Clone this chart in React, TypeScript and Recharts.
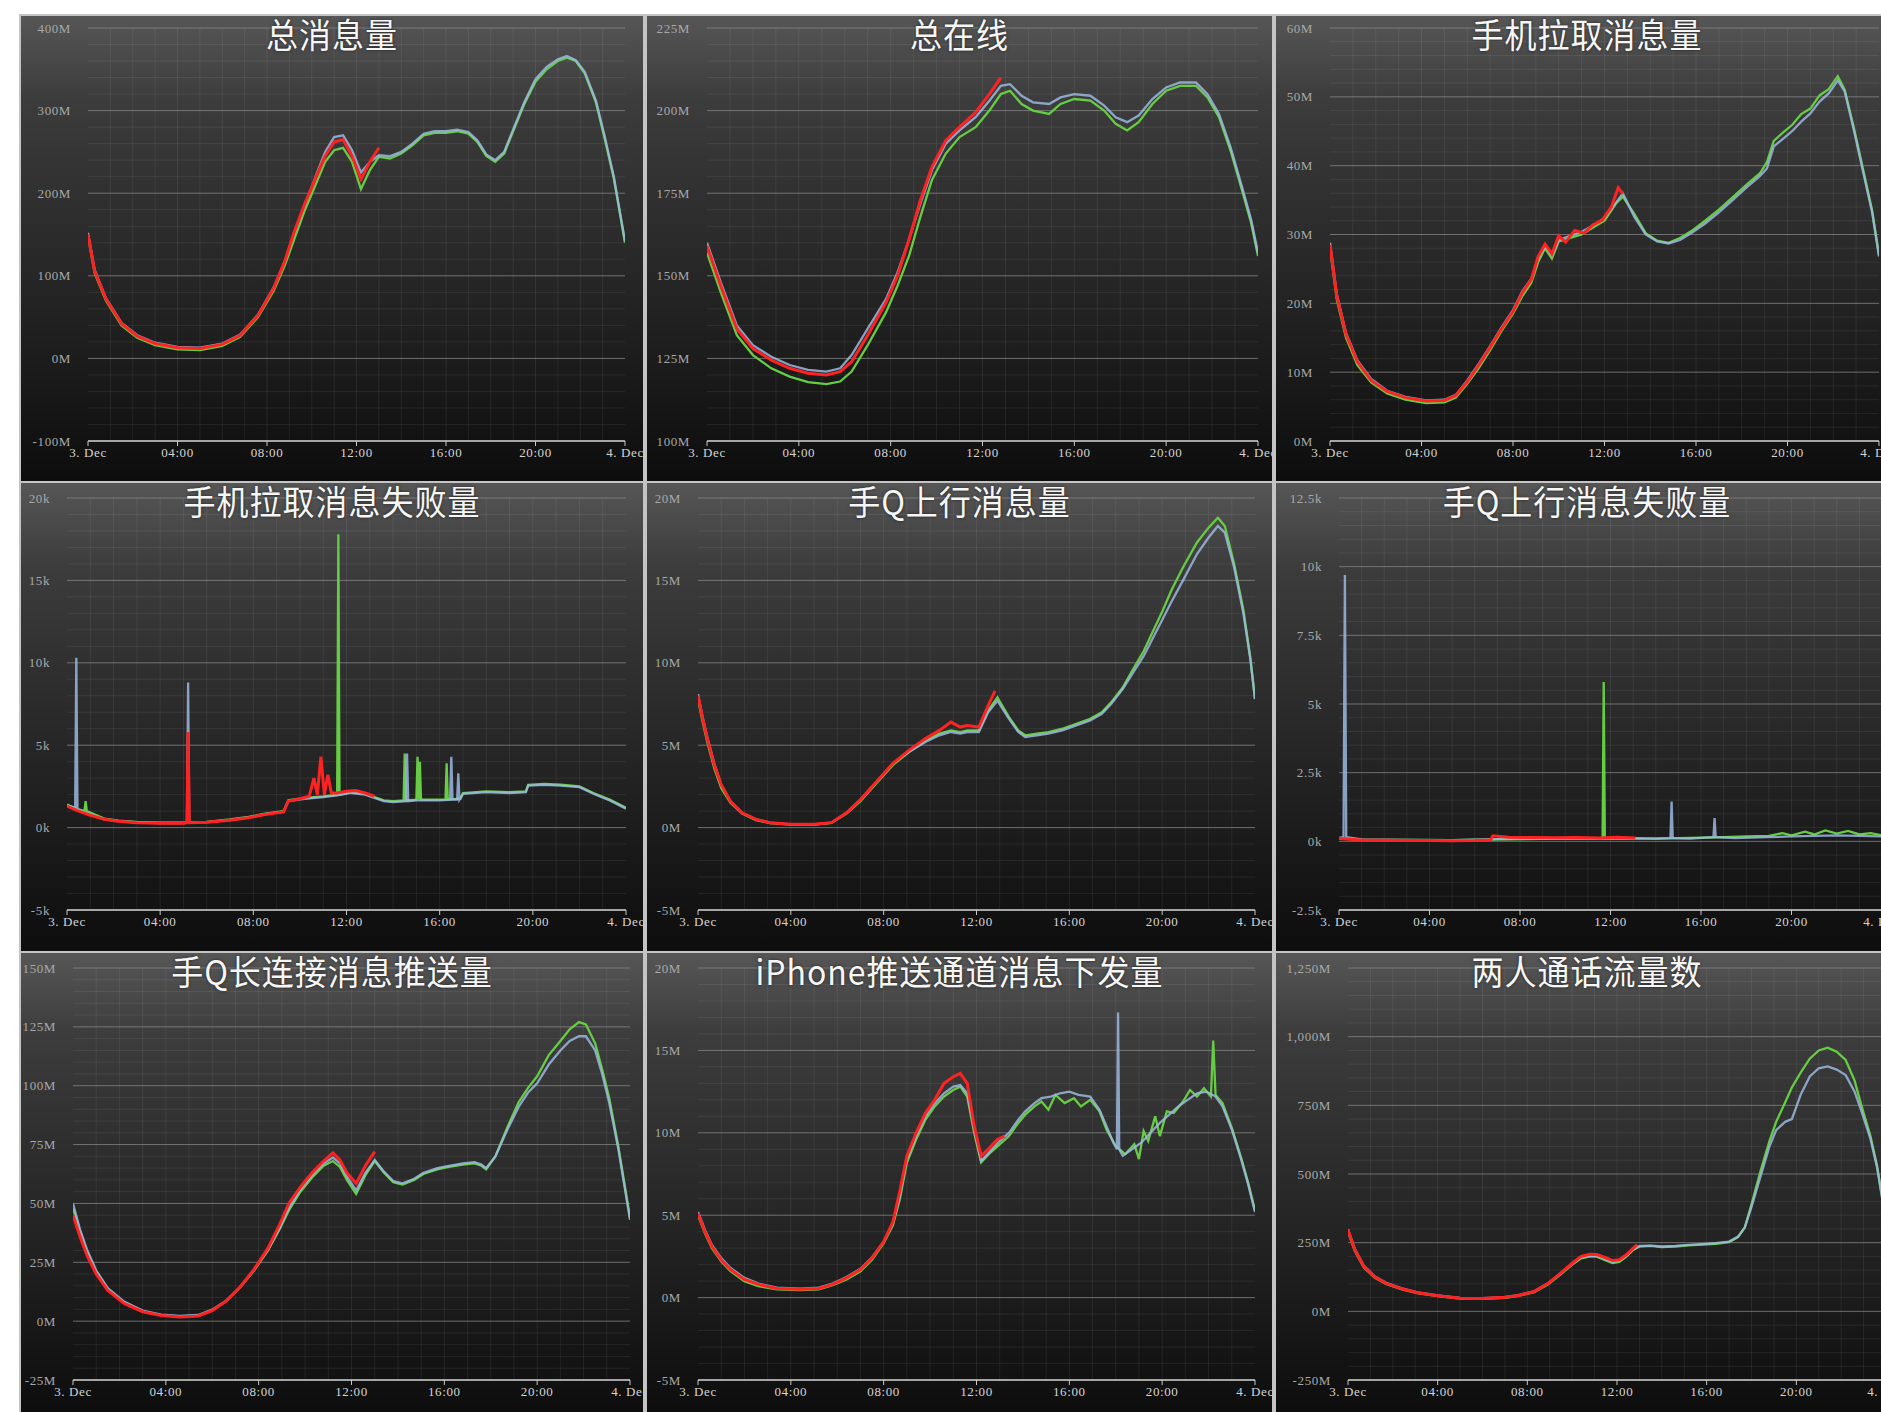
import React from "react";
import { LineChart, Line, XAxis, YAxis, CartesianGrid } from "recharts";

type Pt = [number, number];

// x axis: hours from 3 Dec 00:00 to 4 Dec 00:00
const hourTicks = [0, 4, 8, 12, 16, 20, 24];

// ---- 总消息量 (M) ----
const totalMsgTicks = [-100, 0, 100, 200, 300, 400];
const totalMsgRed: Pt[] = [[0, 150], [0.3, 105], [0.8, 72], [1.5, 42], [2.2, 27], [3, 18], [4, 13], [5, 12], [6, 17], [6.8, 28], [7.6, 52], [8.3, 85], [8.8, 118], [9.2, 152], [9.7, 188], [10.2, 220], [10.6, 245], [11, 262], [11.4, 265], [11.8, 245], [12.2, 217], [12.6, 238], [13, 255]];
const totalMsgGreen: Pt[] = [[0, 148], [0.3, 103], [0.8, 70], [1.5, 40], [2.2, 25], [3, 16], [4, 11], [5, 10], [6, 15], [6.8, 26], [7.6, 50], [8.3, 82], [8.8, 113], [9.2, 143], [9.7, 180], [10.2, 212], [10.6, 238], [11, 252], [11.4, 255], [11.8, 238], [12.2, 205], [12.6, 228], [13, 244], [13.5, 242], [14, 248], [14.5, 258], [15, 270], [15.5, 273], [16, 273], [16.5, 275], [17, 272], [17.4, 262], [17.8, 245], [18.2, 238], [18.6, 248], [19, 275], [19.5, 308], [20, 335], [20.5, 350], [21, 360], [21.4, 364], [21.8, 360], [22.2, 345], [22.7, 310], [23.1, 265], [23.5, 218], [24, 140]];
const totalMsgBlue: Pt[] = [[0, 152], [0.3, 107], [0.8, 73], [1.5, 43], [2.2, 28], [3, 19], [4, 14], [5, 13], [6, 18], [6.8, 29], [7.6, 53], [8.3, 86], [8.8, 118], [9.2, 150], [9.7, 186], [10.2, 222], [10.6, 250], [11, 268], [11.4, 270], [11.8, 252], [12.2, 225], [12.6, 238], [13, 246], [13.5, 245], [14, 250], [14.5, 260], [15, 272], [15.5, 275], [16, 275], [16.5, 277], [17, 274], [17.4, 264], [17.8, 247], [18.2, 240], [18.6, 250], [19, 277], [19.5, 310], [20, 338], [20.5, 353], [21, 362], [21.4, 366], [21.8, 361], [22.2, 347], [22.7, 312], [23.1, 268], [23.5, 220], [24, 142]];

// ---- 总在线 (M) ----
const onlineTicks = [100, 125, 150, 175, 200, 225];
const onlineRed: Pt[] = [[0, 159], [0.6, 147], [1.3, 134], [2, 128], [2.8, 124.5], [3.6, 122], [4.4, 120.5], [5.2, 120], [5.8, 121], [6.3, 124], [7, 132], [7.8, 142], [8.3, 150], [8.8, 161], [9.3, 173], [9.8, 183], [10.4, 191], [11, 195], [11.7, 199.5], [12.3, 205], [12.8, 210]];
const onlineGreen: Pt[] = [[0, 157], [0.6, 145], [1.3, 132], [2, 126], [2.8, 122], [3.6, 119.5], [4.4, 117.8], [5.2, 117.2], [5.8, 118], [6.3, 121], [7, 129], [7.8, 139], [8.3, 147], [8.8, 156], [9.3, 168], [9.8, 179], [10.4, 187], [11, 192], [11.7, 195], [12.3, 200], [12.8, 205], [13.2, 206], [13.7, 202], [14.2, 200], [14.9, 199], [15.4, 202], [16, 203.5], [16.7, 203], [17.3, 200], [17.8, 196], [18.3, 194], [18.8, 196.5], [19.4, 202], [20, 206], [20.6, 207.5], [21.3, 207.5], [21.8, 204], [22.3, 198], [22.8, 188], [23.3, 176], [23.7, 166], [24, 156]];
const onlineBlue: Pt[] = [[0, 160], [0.6, 148], [1.3, 135], [2, 129], [2.8, 125.5], [3.6, 123], [4.4, 121.5], [5.2, 121], [5.8, 122], [6.3, 126], [7, 134], [7.8, 143], [8.3, 151], [8.8, 161], [9.3, 172], [9.8, 182], [10.4, 190], [11, 194], [11.7, 198], [12.3, 203], [12.8, 207.5], [13.2, 208], [13.7, 204.5], [14.2, 202.5], [14.9, 202], [15.4, 204], [16, 205], [16.7, 204.5], [17.3, 201.5], [17.8, 198], [18.3, 196.5], [18.8, 198.5], [19.4, 203.5], [20, 207], [20.6, 208.5], [21.3, 208.5], [21.8, 205], [22.3, 199], [22.8, 189], [23.3, 177], [23.7, 167], [24, 157]];

// ---- 手机拉取消息量 (M) ----
const pullTicks = [0, 10, 20, 30, 40, 50, 60];
const pullRed: Pt[] = [[0, 28.5], [0.3, 21], [0.7, 15.5], [1.2, 11.5], [1.8, 8.8], [2.5, 7.2], [3.3, 6.3], [4.2, 5.8], [5, 5.9], [5.5, 6.6], [6, 8.6], [6.5, 11], [7, 13.6], [7.5, 16.3], [8, 18.8], [8.4, 21.5], [8.8, 23.5], [9.1, 26.8], [9.4, 28.6], [9.7, 27.2], [10, 29.8], [10.3, 28.9], [10.7, 30.6], [11.1, 30.2], [11.5, 31.4], [11.9, 32.1], [12.3, 34], [12.6, 36.8], [12.8, 35.9]];
const pullGreen: Pt[] = [[0, 28], [0.3, 20.5], [0.7, 15], [1.2, 11], [1.8, 8.5], [2.5, 6.9], [3.3, 6], [4.2, 5.5], [5, 5.6], [5.5, 6.3], [6, 8.3], [6.5, 10.6], [7, 13.2], [7.5, 16], [8, 18.5], [8.4, 21], [8.8, 23], [9.1, 26], [9.4, 28], [9.7, 26.5], [10, 29], [10.5, 29.5], [11, 30], [11.5, 31], [12, 32], [12.5, 34.5], [12.8, 35.5], [13.3, 33], [13.8, 30.2], [14.3, 29.1], [14.8, 28.8], [15.3, 29.5], [15.8, 30.5], [16.4, 32], [17, 33.6], [17.6, 35.4], [18.2, 37.2], [18.8, 38.9], [19.1, 40.5], [19.4, 43.6], [19.8, 44.8], [20.2, 45.9], [20.6, 47.5], [21, 48.3], [21.4, 50.2], [21.8, 51.1], [22.2, 53], [22.5, 51], [22.9, 45.5], [23.3, 39.5], [23.7, 33.5], [24, 27]];
const pullBlue: Pt[] = [[0, 28.8], [0.3, 21.3], [0.7, 15.7], [1.2, 11.7], [1.8, 9], [2.5, 7.3], [3.3, 6.4], [4.2, 5.9], [5, 6], [5.5, 6.7], [6, 8.8], [6.5, 11.2], [7, 13.8], [7.5, 16.5], [8, 19], [8.4, 21.7], [8.8, 23.6], [9.1, 26.5], [9.4, 28.3], [9.7, 27], [10, 29.2], [10.5, 29.8], [11, 30.4], [11.5, 31.3], [12, 32.4], [12.5, 34.6], [12.8, 36], [13.3, 32.6], [13.8, 30], [14.3, 29], [14.8, 28.7], [15.3, 29.2], [15.8, 30.2], [16.4, 31.6], [17, 33.2], [17.6, 35], [18.2, 36.8], [18.8, 38.5], [19.1, 39.6], [19.4, 42.8], [19.8, 43.9], [20.2, 45], [20.6, 46.4], [21, 47.6], [21.4, 49.3], [21.8, 50.5], [22.2, 52.4], [22.5, 50.8], [22.9, 45.2], [23.3, 39.2], [23.7, 33.2], [24, 26.8]];

// ---- 手机拉取消息失败量 (k) ----
const pullFailTicks = [-5, 0, 5, 10, 15, 20];
const pullFailRed: Pt[] = [[0, 1.3], [0.5, 1.0], [1, 0.75], [1.6, 0.5], [2.2, 0.38], [3, 0.3], [4, 0.26], [5, 0.26], [5.15, 0.3], [5.2, 5.8], [5.25, 0.3], [6, 0.32], [7, 0.45], [7.8, 0.6], [8.5, 0.8], [9.3, 0.95], [9.5, 1.6], [10, 1.75], [10.4, 1.9], [10.6, 3.0], [10.75, 2.0], [10.9, 4.3], [11.05, 2.0], [11.2, 3.2], [11.35, 2.1], [11.6, 2.1], [12, 2.2], [12.4, 2.25], [12.8, 2.1], [13.2, 1.9]];
const pullFailGreen: Pt[] = [[0, 1.4], [0.5, 1.1], [0.75, 1.0], [0.8, 1.6], [0.85, 1.0], [1.6, 0.55], [2.2, 0.42], [3, 0.35], [4, 0.3], [5, 0.3], [6, 0.35], [7, 0.5], [7.8, 0.65], [8.5, 0.85], [9.3, 1.0], [9.5, 1.65], [10.2, 1.8], [11, 1.9], [11.6, 2.0], [11.65, 17.8], [11.7, 2.0], [12.2, 2.15], [12.8, 2.05], [13.2, 1.85], [13.6, 1.65], [14, 1.6], [14.45, 1.65], [14.5, 4.5], [14.55, 1.65], [15, 1.7], [15.05, 4.3], [15.1, 1.7], [15.15, 4.0], [15.2, 1.7], [16, 1.7], [16.25, 1.7], [16.3, 3.9], [16.35, 1.7], [16.9, 1.75], [17, 2.1], [18, 2.2], [19, 2.15], [19.7, 2.2], [19.8, 2.6], [20.5, 2.65], [21.2, 2.6], [22, 2.5], [22.6, 2.1], [23.3, 1.7], [24, 1.2]];
const pullFailBlue: Pt[] = [[0, 1.35], [0.35, 1.2], [0.4, 10.3], [0.45, 1.1], [1, 0.8], [1.6, 0.5], [2.2, 0.4], [3, 0.32], [4, 0.28], [5, 0.28], [5.15, 0.3], [5.2, 8.8], [5.25, 0.3], [6, 0.33], [7, 0.47], [7.8, 0.62], [8.5, 0.82], [9.3, 0.97], [9.5, 1.6], [10.2, 1.75], [11, 1.85], [11.6, 1.95], [12.2, 2.1], [12.8, 2.0], [13.2, 1.8], [13.6, 1.6], [14, 1.55], [14.55, 1.6], [14.6, 4.5], [14.65, 1.6], [15, 1.65], [16, 1.65], [16.45, 1.7], [16.5, 4.3], [16.55, 1.7], [16.75, 1.7], [16.8, 3.3], [16.85, 1.7], [17, 2.05], [18, 2.15], [19, 2.1], [19.7, 2.15], [19.8, 2.55], [20.5, 2.6], [21.2, 2.55], [22, 2.45], [22.6, 2.05], [23.3, 1.65], [24, 1.15]];

// ---- 手Q上行消息量 (M) ----
const upTicks = [-5, 0, 5, 10, 15, 20];
const upRed: Pt[] = [[0, 8], [0.2, 6.6], [0.4, 5.4], [0.7, 3.8], [1, 2.6], [1.4, 1.6], [1.9, 0.9], [2.5, 0.5], [3.1, 0.3], [4, 0.2], [5, 0.2], [5.75, 0.3], [6.4, 0.9], [7, 1.7], [7.7, 2.8], [8.4, 3.9], [9.1, 4.7], [9.8, 5.4], [10.4, 5.9], [10.9, 6.4], [11.3, 6.1], [11.6, 6.2], [12.1, 6.1], [12.5, 7.4], [12.8, 8.3]];
const upGreen: Pt[] = [[0, 7.8], [0.2, 6.4], [0.4, 5.2], [0.7, 3.6], [1, 2.4], [1.4, 1.5], [1.9, 0.85], [2.5, 0.45], [3.1, 0.28], [4, 0.18], [5, 0.18], [5.75, 0.28], [6.4, 0.85], [7, 1.6], [7.7, 2.7], [8.4, 3.8], [9.1, 4.6], [9.8, 5.3], [10.4, 5.7], [10.9, 5.9], [11.3, 5.8], [11.6, 5.9], [12.1, 5.9], [12.5, 7.1], [12.9, 7.9], [13.4, 6.7], [13.8, 5.9], [14.1, 5.6], [14.6, 5.7], [15.1, 5.8], [15.7, 6], [16.3, 6.3], [16.9, 6.6], [17.4, 7], [17.8, 7.6], [18.3, 8.5], [18.7, 9.5], [19.2, 10.7], [19.6, 11.9], [20, 13.1], [20.4, 14.4], [20.9, 15.8], [21.5, 17.3], [22, 18.2], [22.4, 18.8], [22.7, 18.3], [23.1, 16], [23.5, 13.2], [23.8, 10.3], [24, 7.8]];
const upBlue: Pt[] = [[0, 8.1], [0.2, 6.7], [0.4, 5.5], [0.7, 3.9], [1, 2.6], [1.4, 1.6], [1.9, 0.9], [2.5, 0.5], [3.1, 0.3], [4, 0.2], [5, 0.2], [5.75, 0.3], [6.4, 0.9], [7, 1.7], [7.7, 2.8], [8.4, 3.9], [9.1, 4.6], [9.8, 5.2], [10.4, 5.6], [10.9, 5.8], [11.3, 5.7], [11.6, 5.8], [12.1, 5.8], [12.5, 7], [12.9, 7.7], [13.4, 6.6], [13.8, 5.8], [14.1, 5.5], [14.6, 5.6], [15.1, 5.7], [15.7, 5.9], [16.3, 6.2], [16.9, 6.5], [17.4, 6.9], [17.8, 7.5], [18.3, 8.4], [18.7, 9.3], [19.2, 10.4], [19.6, 11.5], [20, 12.6], [20.4, 13.7], [20.9, 15], [21.5, 16.6], [22, 17.6], [22.4, 18.3], [22.7, 17.9], [23.1, 15.8], [23.5, 13], [23.8, 10.2], [24, 7.8]];

// ---- 手Q上行消息失败量 (k) ----
const upFailTicks = [-2.5, 0, 2.5, 5, 7.5, 10, 12.5];
const upFailRed: Pt[] = [[0, 0.1], [1, 0.05], [2, 0.04], [3, 0.03], [4, 0.03], [5, 0.02], [6, 0.03], [6.7, 0.05], [6.8, 0.2], [7.5, 0.15], [8.5, 0.14], [9.5, 0.13], [10.5, 0.14], [11.5, 0.12], [12.3, 0.15], [13.1, 0.12]];
const upFailGreen: Pt[] = [[0, 0.1], [1, 0.06], [3, 0.05], [5, 0.04], [7, 0.07], [9, 0.09], [11, 0.1], [11.65, 0.1], [11.7, 5.8], [11.75, 0.1], [13, 0.1], [14, 0.1], [15, 0.12], [16, 0.13], [17, 0.15], [18, 0.18], [19, 0.2], [19.6, 0.3], [20, 0.22], [20.6, 0.35], [21, 0.25], [21.5, 0.4], [22, 0.28], [22.5, 0.38], [23, 0.25], [23.5, 0.3], [24, 0.22]];
const upFailBlue: Pt[] = [[0, 0.12], [0.2, 0.15], [0.26, 9.7], [0.32, 0.15], [1, 0.07], [3, 0.05], [5, 0.04], [7, 0.08], [9, 0.1], [11, 0.1], [13, 0.12], [14, 0.1], [14.65, 0.12], [14.7, 1.45], [14.75, 0.12], [15.5, 0.1], [16.55, 0.15], [16.6, 0.85], [16.65, 0.15], [17.5, 0.12], [19, 0.15], [20, 0.18], [21, 0.2], [22, 0.22], [23, 0.2], [24, 0.18]];

// ---- 手Q长连接消息推送量 (M) ----
const pushTicks = [-25, 0, 25, 50, 75, 100, 125, 150];
const pushRed: Pt[] = [[0, 45], [0.3, 36], [0.6, 28], [1, 20], [1.5, 13], [2.2, 7.5], [3, 4], [3.8, 2.4], [4.6, 1.8], [5.4, 2.2], [6, 4.5], [6.6, 8.5], [7.2, 14.5], [7.8, 22], [8.4, 31], [8.9, 41], [9.3, 50], [9.8, 57], [10.3, 63], [10.8, 68], [11.2, 71.5], [11.5, 68.5], [11.8, 63], [12.2, 58.5], [12.6, 66], [13, 72]];
const pushGreen: Pt[] = [[0, 48], [0.3, 38], [0.6, 29.5], [1, 21], [1.5, 13.5], [2.2, 8], [3, 4.2], [3.8, 2.6], [4.6, 2], [5.4, 2.4], [6, 4.7], [6.6, 8.5], [7.2, 14.3], [7.8, 21.5], [8.4, 30], [8.9, 39], [9.3, 47], [9.8, 55], [10.3, 61], [10.8, 66], [11.2, 68], [11.5, 65.5], [11.8, 60], [12.2, 54], [12.6, 62], [13, 68], [13.4, 63], [13.8, 59], [14.2, 58], [14.7, 60], [15.1, 62.5], [15.7, 64.5], [16.2, 65.5], [16.8, 66.5], [17.3, 67], [17.6, 66], [17.8, 64.5], [18.2, 70], [18.7, 82], [19.2, 93], [19.6, 99], [20, 104], [20.5, 113], [21, 119], [21.4, 124], [21.8, 127], [22.1, 126], [22.5, 118], [22.8, 107], [23.1, 95], [23.5, 74], [23.8, 56], [24, 44]];
const pushBlue: Pt[] = [[0, 50], [0.3, 39], [0.6, 30.5], [1, 21.5], [1.5, 14], [2.2, 8.3], [3, 4.5], [3.8, 2.8], [4.6, 2.2], [5.4, 2.6], [6, 4.9], [6.6, 8.7], [7.2, 14.5], [7.8, 21.7], [8.4, 30.3], [8.9, 39.5], [9.3, 48], [9.8, 56], [10.3, 62], [10.8, 67], [11.2, 69.5], [11.5, 67], [11.8, 61.5], [12.2, 55.5], [12.6, 63], [13, 68.5], [13.4, 63.5], [13.8, 59.5], [14.2, 58.5], [14.7, 60.5], [15.1, 63], [15.7, 65], [16.2, 66], [16.8, 67], [17.3, 67.5], [17.6, 66.5], [17.8, 65], [18.2, 70], [18.7, 81], [19.2, 91], [19.6, 97], [20, 101], [20.5, 109], [21, 115], [21.4, 119], [21.8, 121], [22.1, 121], [22.5, 115], [22.8, 105], [23.1, 93], [23.5, 73], [23.8, 55], [24, 43]];

// ---- iPhone推送通道消息下发量 (M) ----
const apnsTicks = [-5, 0, 5, 10, 15, 20];
const apnsRed: Pt[] = [[0, 5.1], [0.3, 4], [0.6, 3.1], [1, 2.3], [1.4, 1.7], [2, 1.1], [2.6, 0.8], [3.4, 0.55], [4.4, 0.5], [5.2, 0.55], [5.8, 0.8], [6.4, 1.2], [7, 1.7], [7.5, 2.4], [8, 3.4], [8.4, 4.6], [8.7, 6.5], [9, 8.6], [9.4, 10], [9.8, 11.2], [10.2, 12], [10.6, 13], [11, 13.4], [11.3, 13.6], [11.6, 13], [11.9, 10.4], [12.2, 8.6], [12.5, 9], [12.9, 9.6], [13.2, 9.8]];
const apnsGreen: Pt[] = [[0, 5], [0.3, 3.9], [0.6, 3], [1, 2.2], [1.4, 1.6], [2, 1], [2.6, 0.7], [3.4, 0.5], [4.4, 0.45], [5.2, 0.5], [5.8, 0.75], [6.4, 1.1], [7, 1.6], [7.5, 2.3], [8, 3.3], [8.4, 4.4], [8.7, 6], [9, 8.2], [9.4, 9.6], [9.8, 10.8], [10.2, 11.6], [10.6, 12.2], [11, 12.6], [11.3, 12.8], [11.6, 12.2], [11.9, 10], [12.2, 8.2], [12.6, 8.8], [13, 9.3], [13.4, 9.8], [13.8, 10.6], [14.1, 11.1], [14.5, 11.6], [14.8, 11.9], [15.1, 11.4], [15.4, 12.3], [15.8, 11.8], [16.2, 12.1], [16.5, 11.6], [16.9, 12], [17.3, 11.3], [17.6, 10.2], [18, 9.2], [18.4, 8.7], [18.8, 9.3], [19, 8.4], [19.2, 10.1], [19.4, 9.5], [19.7, 11], [19.9, 9.8], [20.2, 11.3], [20.5, 11.2], [20.9, 11.9], [21.2, 12.6], [21.5, 12.2], [21.8, 12.7], [22.1, 12.2], [22.2, 15.6], [22.3, 12.3], [22.6, 11.8], [23, 10.3], [23.4, 8.5], [23.7, 7], [24, 5.3]];
const apnsBlue: Pt[] = [[0, 5.2], [0.3, 4.1], [0.6, 3.2], [1, 2.4], [1.4, 1.8], [2, 1.2], [2.6, 0.85], [3.4, 0.6], [4.4, 0.55], [5.2, 0.6], [5.8, 0.85], [6.4, 1.25], [7, 1.75], [7.5, 2.45], [8, 3.4], [8.4, 4.5], [8.7, 6.2], [9, 8.4], [9.4, 9.8], [9.8, 11], [10.2, 11.8], [10.6, 12.4], [11, 12.8], [11.3, 12.9], [11.6, 12.4], [11.9, 10.2], [12.2, 8.3], [12.6, 8.9], [13, 9.5], [13.4, 10], [13.8, 10.8], [14.1, 11.3], [14.5, 11.8], [14.8, 12.1], [15.2, 12.2], [15.6, 12.4], [16, 12.5], [16.4, 12.3], [16.9, 12.2], [17.3, 11.4], [17.6, 10.4], [17.9, 9.4], [18.05, 9], [18.1, 17.3], [18.15, 9], [18.3, 8.6], [18.7, 9], [19.1, 9.4], [19.5, 10], [19.9, 10.6], [20.3, 11.1], [20.7, 11.6], [21.1, 12], [21.5, 12.4], [21.9, 12.5], [22.3, 12.2], [22.6, 11.6], [23, 10.2], [23.4, 8.4], [23.7, 6.9], [24, 5.2]];

// ---- 两人通话流量数 (M) ----
const callTicks = [-250, 0, 250, 500, 750, 1000, 1250];
const callRed: Pt[] = [[0, 296], [0.3, 225], [0.7, 165], [1.2, 125], [1.7, 102], [2.4, 82], [3.1, 68], [4, 57], [5, 48], [6, 47], [7, 51], [7.6, 58], [8.3, 72], [8.9, 100], [9.5, 140], [10, 175], [10.4, 200], [10.8, 208], [11.1, 207], [11.5, 195], [11.8, 185], [12.1, 188], [12.4, 205], [12.7, 228], [12.9, 243]];
const callGreen: Pt[] = [[0, 290], [0.3, 220], [0.7, 160], [1.2, 122], [1.7, 100], [2.4, 80], [3.1, 66], [4, 55], [5, 46], [6, 45], [7, 49], [7.6, 56], [8.3, 70], [8.9, 97], [9.5, 136], [10, 170], [10.4, 193], [10.8, 200], [11.1, 199], [11.5, 185], [11.8, 176], [12.1, 180], [12.4, 198], [12.7, 222], [13, 236], [13.5, 238], [14, 234], [14.6, 236], [15.2, 240], [15.8, 243], [16.4, 246], [17, 252], [17.4, 270], [17.7, 305], [18, 390], [18.4, 510], [18.8, 620], [19.1, 690], [19.5, 760], [19.8, 815], [20.2, 870], [20.6, 920], [21, 950], [21.4, 960], [21.8, 945], [22.2, 915], [22.6, 840], [22.9, 750], [23.3, 640], [23.6, 530], [24, 330]];
const callBlue: Pt[] = [[0, 298], [0.3, 228], [0.7, 167], [1.2, 127], [1.7, 104], [2.4, 84], [3.1, 69], [4, 58], [5, 49], [6, 48], [7, 52], [7.6, 59], [8.3, 73], [8.9, 101], [9.5, 140], [10, 173], [10.4, 196], [10.8, 203], [11.1, 202], [11.5, 190], [11.8, 180], [12.1, 184], [12.4, 201], [12.7, 224], [13, 238], [13.5, 239], [14, 236], [14.6, 238], [15.2, 242], [15.8, 245], [16.4, 248], [17, 254], [17.4, 272], [17.7, 305], [18, 380], [18.4, 490], [18.8, 600], [19.1, 660], [19.5, 690], [19.8, 700], [20.2, 790], [20.6, 855], [21, 885], [21.4, 892], [21.8, 880], [22.2, 860], [22.6, 800], [22.9, 730], [23.3, 630], [23.6, 525], [24, 325]];

const RED = "#ff2222";
const GREEN = "#66cc44";
const BLUE = "#9bb9e0";

const colLeft = [21, 647, 1276];
const colWidth = [622, 625, 622];
const rowTop = [16, 483, 953];
const rowHeight = [465, 468, 460];
const rowPlot = [
    { top: 12, bottom: 425 },
    { top: 15, bottom: 427 },
    { top: 15, bottom: 427 },
];

interface PanelCfg {
    title: string;
    unit: string;
    ticks: number[];
    red: Pt[];
    green: Pt[];
    blue: Pt[];
    row: number;
    col: number;
    plotLeft: number; // local x of 0h
    plotRight: number; // local x of 24h
}

const panels: PanelCfg[] = [
    { title: "总消息量", unit: "M", ticks: totalMsgTicks, red: totalMsgRed, green: totalMsgGreen, blue: totalMsgBlue, row: 0, col: 0, plotLeft: 67, plotRight: 604 },
    { title: "总在线", unit: "M", ticks: onlineTicks, red: onlineRed, green: onlineGreen, blue: onlineBlue, row: 0, col: 1, plotLeft: 60, plotRight: 611 },
    { title: "手机拉取消息量", unit: "M", ticks: pullTicks, red: pullRed, green: pullGreen, blue: pullBlue, row: 0, col: 2, plotLeft: 54, plotRight: 603 },
    { title: "手机拉取消息失败量", unit: "k", ticks: pullFailTicks, red: pullFailRed, green: pullFailGreen, blue: pullFailBlue, row: 1, col: 0, plotLeft: 46, plotRight: 605 },
    { title: "手Q上行消息量", unit: "M", ticks: upTicks, red: upRed, green: upGreen, blue: upBlue, row: 1, col: 1, plotLeft: 51, plotRight: 608 },
    { title: "手Q上行消息失败量", unit: "k", ticks: upFailTicks, red: upFailRed, green: upFailGreen, blue: upFailBlue, row: 1, col: 2, plotLeft: 63, plotRight: 606 },
    { title: "手Q长连接消息推送量", unit: "M", ticks: pushTicks, red: pushRed, green: pushGreen, blue: pushBlue, row: 2, col: 0, plotLeft: 52, plotRight: 609 },
    { title: "iPhone推送通道消息下发量", unit: "M", ticks: apnsTicks, red: apnsRed, green: apnsGreen, blue: apnsBlue, row: 2, col: 1, plotLeft: 51, plotRight: 608 },
    { title: "两人通话流量数", unit: "M", ticks: callTicks, red: callRed, green: callGreen, blue: callBlue, row: 2, col: 2, plotLeft: 72, plotRight: 610 },
];

const toRows = (pts: Pt[]) => pts.map(([t, v]) => ({ t, v }));

const fmtHour = (h: number) =>
    h === 0 ? "3. Dec" : h === 24 ? "4. Dec" : `${String(h).padStart(2, "0")}:00`;

const fmtValue = (unit: string) => (v: number) =>
    (Math.abs(v) >= 1000 ? v.toLocaleString("en-US") : String(v)) + unit;

const hours = Array.from({ length: 23 }, (_, i) => i + 1);

const Panel: React.FC<{ cfg: PanelCfg }> = ({ cfg }) => {
    const width = colWidth[cfg.col];
    const height = rowHeight[cfg.row];
    const plot = rowPlot[cfg.row];
    const xAxisHeight = 30;
    const yMin = cfg.ticks[0];
    const yMax = cfg.ticks[cfg.ticks.length - 1];
    const step = cfg.ticks[1] - cfg.ticks[0];

    // faint minor lines between the labelled ticks
    const minor: number[] = [];
    cfg.ticks.slice(0, -1).forEach((t) => {
        for (let k = 1; k < 5; k++) minor.push(t + (step * k) / 5);
    });

    return (
        <div
            style={{
                position: "absolute",
                left: colLeft[cfg.col],
                top: rowTop[cfg.row],
                width,
                height,
                background:
                    "linear-gradient(180deg, #565656 0%, #3c3c3c 18%, #242424 60%, #0d0d0d 100%)",
            }}
        >
            <LineChart
                width={width}
                height={height}
                margin={{
                    top: plot.top,
                    right: width - cfg.plotRight,
                    left: 0,
                    bottom: height - plot.bottom - xAxisHeight,
                }}
            >
                <CartesianGrid
                    horizontalValues={minor}
                    verticalValues={hours}
                    stroke="#ffffff"
                    strokeOpacity={0.07}
                />
                <CartesianGrid
                    vertical={false}
                    stroke="#8a8a8a"
                    strokeOpacity={0.75}
                />
                <XAxis
                    type="number"
                    dataKey="t"
                    domain={[0, 24]}
                    ticks={hourTicks}
                    tickFormatter={fmtHour}
                    height={xAxisHeight}
                    axisLine={{ stroke: "#c8c8c8", strokeWidth: 1.5 }}
                    tickLine={{ stroke: "#c8c8c8" }}
                    tickSize={5}
                    tick={{ fill: "#d4d4d4", fontSize: 13, fontFamily: "Liberation Serif", letterSpacing: 0.6 }}
                    interval={0}
                    allowDataOverflow
                />
                <YAxis
                    type="number"
                    domain={[yMin, yMax]}
                    ticks={cfg.ticks}
                    tickFormatter={fmtValue(cfg.unit)}
                    width={cfg.plotLeft}
                    axisLine={false}
                    tickLine={false}
                    tickMargin={11}
                    tick={{ fill: "#a8a8a8", fontSize: 13, fontFamily: "Liberation Serif", letterSpacing: 0.6 }}
                    interval={0}
                    allowDataOverflow
                />
                <Line
                    data={toRows(cfg.green)}
                    dataKey="v"
                    name="green"
                    type="linear"
                    stroke={GREEN}
                    strokeWidth={2.3}
                    dot={false}
                    isAnimationActive={false}
                />
                <Line
                    data={toRows(cfg.blue)}
                    dataKey="v"
                    name="blue"
                    type="linear"
                    stroke={BLUE}
                    strokeOpacity={0.85}
                    strokeWidth={2.3}
                    dot={false}
                    isAnimationActive={false}
                />
                <Line
                    data={toRows(cfg.red)}
                    dataKey="v"
                    name="red"
                    type="linear"
                    stroke={RED}
                    strokeWidth={3}
                    dot={false}
                    isAnimationActive={false}
                />
            </LineChart>
            <div
                style={{
                    position: "absolute",
                    left: 0,
                    top: -3,
                    width,
                    textAlign: "center",
                    color: "#f6f6f6",
                    fontFamily: "'Noto Sans CJK SC', 'Noto Sans', sans-serif",
                    fontSize: 32,
                    lineHeight: "36px",
                    letterSpacing: 1,
                    transform: "scaleY(1.08)",
                    transformOrigin: "top",
                    textShadow: "0 0 3px rgba(0,0,0,0.6)",
                    pointerEvents: "none",
                }}
            >
                {cfg.title}
            </div>
        </div>
    );
};

export default function App() {
    return (
        <div
            style={{
                position: "absolute",
                left: 0,
                top: 0,
                width: 1881,
                height: 1412,
                overflow: "hidden",
                background: "#ffffff",
            }}
        >
            {/* light separators between the panels */}
            <div
                style={{
                    position: "absolute",
                    left: 19,
                    top: 14,
                    width: 1881 - 19,
                    height: 1412 - 14,
                    background: "#c4c4c4",
                }}
            />
            {panels.map((p) => (
                <Panel key={p.title} cfg={p} />
            ))}
        </div>
    );
}
